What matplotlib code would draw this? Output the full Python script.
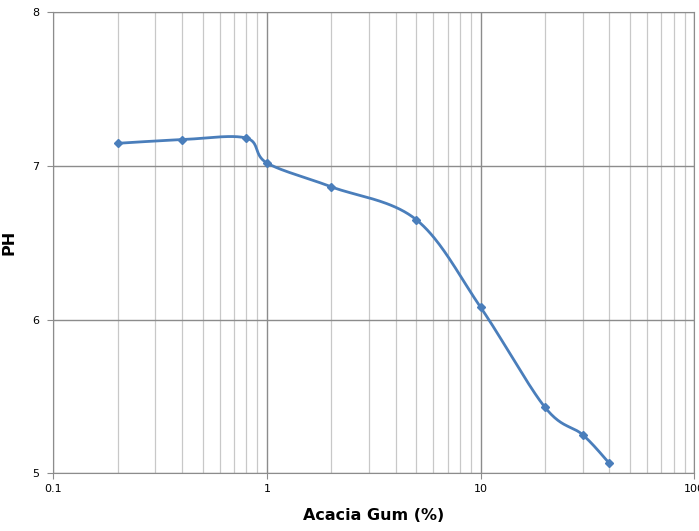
import numpy as np
import matplotlib
matplotlib.use("Agg")
import matplotlib.pyplot as plt
from matplotlib.ticker import LogLocator, FixedLocator, NullFormatter

# data
gum = [0.2, 0.4, 0.8, 1, 2, 5, 10, 20, 30, 40]
ph = [7.146, 7.17, 7.18, 7.018, 6.863, 6.649, 6.079, 5.429, 5.251, 5.065]

x_ticks = [0.1, 1, 10, 100]
x_labels = ["0.1", "1", "10", "100"]
y_ticks = [5, 6, 7, 8]


def smooth(xs, ys, sx, sy, n=40):
    # Catmull-Rom through the points, in screen-like units (log x)
    px = np.log10(xs) * sx
    py = np.array(ys) * sy
    P = np.column_stack([px, py])
    out = []
    for i in range(len(P) - 1):
        p0 = P[max(i - 1, 0)]
        p1 = P[i]
        p2 = P[i + 1]
        p3 = P[min(i + 2, len(P) - 1)]
        c1 = p1 + (p2 - p0) / 6
        c2 = p2 - (p3 - p1) / 6
        t = np.linspace(0, 1, n)[:, None]
        seg = (1 - t) ** 3 * p1 + 3 * (1 - t) ** 2 * t * c1 + 3 * (1 - t) * t ** 2 * c2 + t ** 3 * p2
        out.append(seg)
    out = np.vstack(out)
    return 10 ** (out[:, 0] / sx), out[:, 1] / sy


fig = plt.figure(figsize=(6.99, 5.31), dpi=100)
ax = fig.add_axes([0.0763, 0.1087, 0.917, 0.8687])

ax.set_xscale("log")
ax.set_xlim(0.1, 100)
ax.set_ylim(5, 8)

# smoothed line like the spreadsheet chart
sx_, sy_ = smooth(gum, ph, 213.5, 153.8)
ax.plot(sx_, sy_, color="#4A7EBB", lw=2.0, zorder=3)
ax.plot(gum, ph, linestyle="none", marker="D", ms=4.5, color="#4A7EBB", zorder=4)

ax.xaxis.set_major_locator(FixedLocator(x_ticks))
ax.set_xticklabels(x_labels, fontsize=8)
ax.xaxis.set_minor_locator(LogLocator(base=10, subs=np.arange(2, 10)))
ax.xaxis.set_minor_formatter(NullFormatter())
ax.set_yticks(y_ticks)
ax.set_yticklabels([str(v) for v in y_ticks], fontsize=8)

ax.grid(which="major", color="#8c8c8c", lw=1.0)
ax.grid(which="minor", axis="x", color="#c8c8c8", lw=0.9)
ax.set_axisbelow(True)

for s in ax.spines.values():
    s.set_color("#8c8c8c")
ax.tick_params(axis="x", which="major", length=4, color="#8c8c8c", pad=4)
ax.tick_params(axis="x", which="minor", length=0)
ax.tick_params(axis="y", length=4, color="#8c8c8c", pad=6)

ax.set_xlabel("Acacia Gum (%)", fontsize=11.5, fontweight="bold")
ax.set_ylabel("PH", fontsize=11.5, fontweight="bold")
ax.xaxis.set_label_coords(0.5, -0.076)
ax.yaxis.set_label_coords(-0.058, 0.5)

fig.savefig("out.png", dpi=100)
